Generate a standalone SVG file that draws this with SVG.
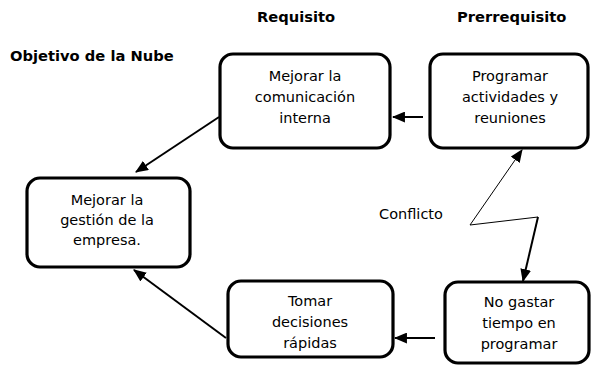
<svg xmlns="http://www.w3.org/2000/svg" width="591" height="365" viewBox="0 0 591 365">
<defs>
<style>
.box{fill:#fff;stroke:#000;stroke-width:3.2}
.t{font-family:"DejaVu Sans",Verdana,sans-serif;font-size:14.5px;fill:#000;text-anchor:middle}
.h{font-family:"DejaVu Sans",Verdana,sans-serif;font-size:14.7px;font-weight:bold;fill:#000}
.c{stroke:#000;fill:none}
</style>
<marker id="ah" viewBox="0 0 12 10" refX="11" refY="5" markerWidth="13" markerHeight="11" orient="auto" markerUnits="userSpaceOnUse">
<path d="M0,0 L12,5 L0,10 z" fill="#000"/>
</marker>
</defs>
<g id="labels">
<text class="h" x="257" y="22">Requisito</text>
<text class="h" x="457" y="22">Prerrequisito</text>
<text class="h" x="10" y="61">Objetivo de la Nube</text>
</g>
<g id="connectors">
<line class="c" stroke-width="2" x1="219" y1="117" x2="136" y2="172" marker-end="url(#ah)"/>
<line class="c" stroke-width="2" x1="423" y1="117" x2="393" y2="117" marker-end="url(#ah)"/>
<line class="c" stroke-width="2" x1="226" y1="338" x2="134" y2="270" marker-end="url(#ah)"/>
<line class="c" stroke-width="2" x1="435" y1="338" x2="395" y2="338" marker-end="url(#ah)"/>
<line class="c" stroke-width="1" x1="470" y1="225" x2="522" y2="150" marker-end="url(#ah)"/>
<line class="c" stroke-width="1" x1="470" y1="225" x2="538" y2="217"/>
<line class="c" stroke-width="2" x1="538" y1="217" x2="523" y2="281" marker-end="url(#ah)"/>
<text class="t" x="411" y="219">Conflicto</text>
</g>
<g id="n1">
<rect class="box" x="220" y="54" width="170" height="94" rx="13"/>
<text class="t" x="305" y="81">Mejorar la</text>
<text class="t" x="305" y="102">comunicación</text>
<text class="t" x="305" y="123">interna</text>
</g>
<g id="n2">
<rect class="box" x="430" y="54" width="158" height="94" rx="13"/>
<text class="t" x="510" y="81">Programar</text>
<text class="t" x="510" y="102">actividades y</text>
<text class="t" x="510" y="123">reuniones</text>
</g>
<g id="n3">
<rect class="box" x="27" y="178" width="163" height="89" rx="13"/>
<text class="t" x="107" y="205">Mejorar la</text>
<text class="t" x="107" y="225">gestión de la</text>
<text class="t" x="107" y="245">empresa.</text>
</g>
<g id="n4">
<rect class="box" x="228" y="281" width="165" height="76" rx="13"/>
<text class="t" x="310" y="306">Tomar</text>
<text class="t" x="310" y="327">decisiones</text>
<text class="t" x="310" y="348">rápidas</text>
</g>
<g id="n5">
<rect class="box" x="445" y="282" width="144" height="81" rx="13"/>
<text class="t" x="519" y="307">No gastar</text>
<text class="t" x="519" y="328">tiempo en</text>
<text class="t" x="519" y="349">programar</text>
</g>
</svg>
